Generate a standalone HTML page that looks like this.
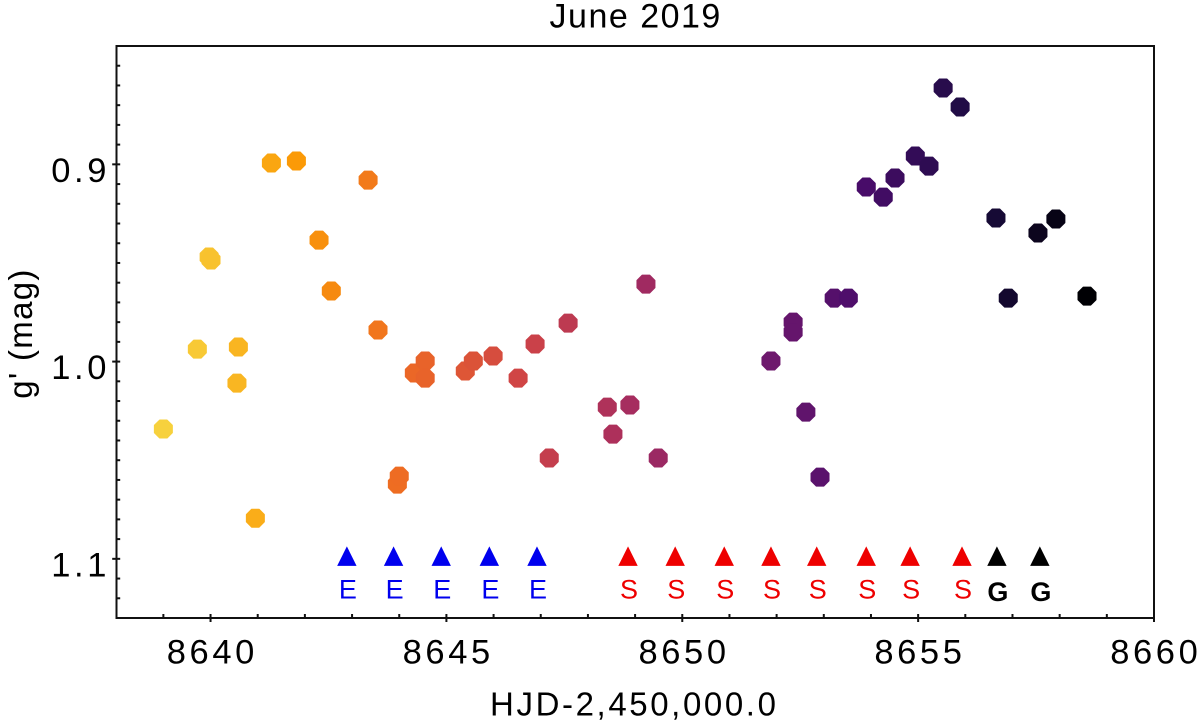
<!DOCTYPE html>
<html lang="en">
<head>
<meta charset="utf-8">
<title>June 2019 light curve</title>
<style>
html,body{margin:0;padding:0;background:#fff;width:1200px;height:728px;overflow:hidden}
svg{display:block}
text{font-family:"Liberation Sans",sans-serif;fill:#000}
</style>
</head>
<body>
<svg id="chart" xmlns="http://www.w3.org/2000/svg" width="1200" height="728" viewBox="0 0 1200 728">
  <text x="635.7" y="27.5" font-size="34" letter-spacing="1.5" text-anchor="middle">June 2019</text>
  <text x="634.3" y="715.5" font-size="33" letter-spacing="2.6" text-anchor="middle">HJD-2,450,000.0</text>
  <text transform="translate(32,333.5) rotate(-90)" font-size="33" letter-spacing="1.3" text-anchor="middle">g' (mag)</text>
  <rect x="116.5" y="46" width="1037.5" height="572" fill="none" stroke="#111" stroke-width="2"></rect>
  <g id="ticks"></g>
  <g id="points"></g>
  <g id="markers"></g>
</svg>
<script>
const hjd = [8639.0,8639.72,8639.97,8640.01,8640.56,8640.59,8640.95,8641.29,8641.82,8642.30,8642.56,8643.34,8643.55,8643.96,8644.0,8644.32,8644.55,8644.55,8645.40,8645.57,8645.99,8646.52,8646.88,8647.18,8647.58,8648.41,8648.53,8648.89,8649.23,8649.49,8651.88,8652.35,8652.35,8652.62,8652.92,8653.22,8653.52,8653.90,8654.26,8654.51,8654.94,8655.23,8655.53,8655.89,8656.65,8656.91,8657.54,8657.92,8658.58];
const mag = [1.0342,0.9937,0.947,0.9485,1.0109,0.9926,1.0794,0.8993,0.8983,0.9384,0.9642,0.908,0.984,1.0621,1.0581,1.0058,0.9997,1.0084,1.0048,0.9997,0.9972,1.0084,0.9911,1.0489,0.9805,1.0231,1.0368,1.022,0.9607,1.0489,0.9997,0.98,0.985,1.0256,1.0586,0.9678,0.9678,0.9115,0.9166,0.9069,0.8958,0.9009,0.8613,0.8709,0.9272,0.9678,0.9348,0.9277,0.9668];
const obsE = [8642.89,8643.88,8644.89,8645.91,8646.92];
const obsS = [8648.85,8649.85,8650.89,8651.88,8652.85,8653.90,8654.83,8655.93];
const obsG = [8656.67,8657.58];
const obsMag = 1.1;
const xTickLabels = [8640,8645,8650,8655,8660];
const yTickLabels = [0.9,1.0,1.1];
const xDomain = [8638,8660];
const yDomain = [0.84,1.13];

const NS = 'http://www.w3.org/2000/svg';
const L = 116.2, R = 1154, T = 46, B = 618;
function xScale(v){ return L + (v - xDomain[0]) / (xDomain[1] - xDomain[0]) * (R - L); }
function yScale(v){ return T + (v - yDomain[0]) / (yDomain[1] - yDomain[0]) * (B - T); }
function make(tag, attrs, parent){
  const el = document.createElementNS(NS, tag);
  for (const k in attrs) el.setAttribute(k, attrs[k]);
  parent.appendChild(el);
  return el;
}
function octagon(cx, cy, flat){
  const r = flat / Math.cos(Math.PI / 8);
  const pts = [];
  for (let i = 0; i < 8; i++) {
    const a = Math.PI / 8 + i * Math.PI / 4;
    pts.push((cx + r * Math.cos(a)).toFixed(2) + ',' + (cy + r * Math.sin(a)).toFixed(2));
  }
  return pts.join(' ');
}
const stops = [[0,0,4],[27,12,65],[74,12,107],[120,28,109],[165,44,96],[207,68,70],[237,105,37],[251,155,6],[247,209,61]];
function inferno(t){
  const p = Math.max(0, Math.min(0.8, t)) * 10;
  const i = Math.min(7, Math.floor(p));
  const f = p - i;
  const c = stops[i].map((s, k) => Math.round(s + (stops[i + 1][k] - s) * f));
  return 'rgb(' + c.join(',') + ')';
}
function timeColor(v){
  const a = hjd[0], b = hjd[hjd.length - 1];
  return inferno(0.815 * (1 - (v - a) / (b - a)));
}

const ticks = document.getElementById('ticks');
for (let d = xDomain[0] + 1; d < xDomain[1] + 1; d++) {
  const major = xTickLabels.includes(d);
  const x = xScale(d);
  const t = make('line', {x1:x, x2:x, y1: B - 4, y2: major ? B + 4 : B, stroke:'#111', 'stroke-width':2}, ticks);
  
  
}
for (let i = 1; i < 29; i++) {
  const m = Math.round((yDomain[0] + i * 0.01) * 100) / 100;
  const major = yTickLabels.includes(m);
  const y = yScale(m);
  const t = make('line', {x1: major ? L - 4 : L, x2: L + 4, y1:y, y2:y, stroke:'#111', 'stroke-width':2}, ticks);
  
  
}
xTickLabels.forEach(v => {
  const t = make('text', {x: xScale(v) + 1.8, y: 663.5, 'font-size': 34.5, 'letter-spacing': 3.6, 'text-anchor':'middle'}, ticks);
  t.textContent = String(v);
  
  
});
yTickLabels.forEach(v => {
  const t = make('text', {x: 110, y: yScale(v) + 17.5, 'font-size': 34.5, 'letter-spacing': 3.6, 'text-anchor':'end'}, ticks);
  t.textContent = v.toFixed(1);
  
  
});

const points = document.getElementById('points');
hjd.forEach((v, i) => {
  const color = timeColor(v);
  const c = make('polygon', {points: octagon(xScale(v), yScale(mag[i]), 8.9), fill: color, stroke: color, 'stroke-width': 1.2, 'stroke-linejoin': 'round'}, points);
  
  
});

const markers = document.getElementById('markers');
function drawObs(list, letter, color, weight, drop){
  list.forEach(v => {
    const x = xScale(v), y = yScale(obsMag);
    const tri = make('polygon', {points: (x - 9.7) + ',' + (y + 7) + ' ' + (x + 9.7) + ',' + (y + 7) + ' ' + x + ',' + (y - 12.5), fill: color}, markers);
    
    
    const t = make('text', {x: x + 1, y: y + drop, 'font-size': 27, 'text-anchor':'middle', 'font-weight': weight}, markers);
    t.style.fill = color;
    t.textContent = letter;
    
    
  });
}
drawObs(obsE, 'E', '#0000ee', 'normal', 39.5);
drawObs(obsS, 'S', '#ee0000', 'normal', 39.5);
drawObs(obsG, 'G', '#000000', 'bold', 42);
</script>
</body>
</html>
